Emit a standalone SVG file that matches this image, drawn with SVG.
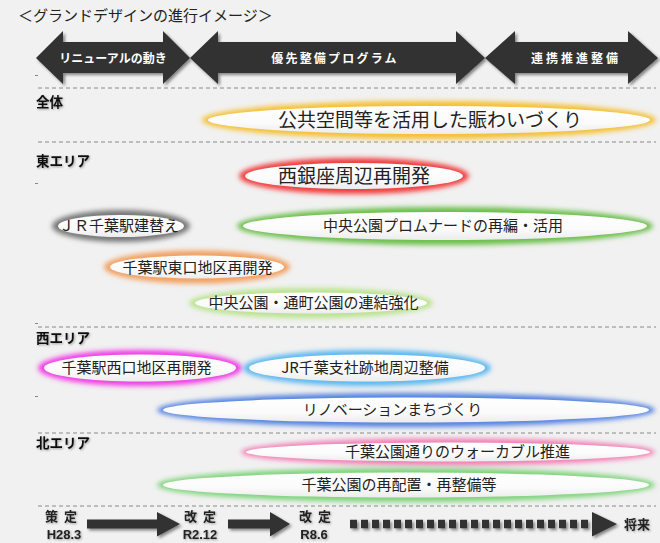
<svg xmlns="http://www.w3.org/2000/svg" width="660" height="543" viewBox="0 0 660 543">
<defs>
<style>
.t{font-family:"Noto Sans CJK JP","Noto Sans",sans-serif;fill:#222}
.hd{font-family:"Noto Sans CJK JP",sans-serif;fill:#fff;font-weight:bold;font-size:12px;text-anchor:middle}
.sec{font-family:"Noto Sans CJK JP",sans-serif;font-weight:bold;font-size:13.5px;fill:#111}
.lbl{font-family:"Noto Sans CJK JP",sans-serif;font-size:15px;fill:#222;text-anchor:middle}
.big{font-size:19px}
.tl{font-family:"Liberation Sans","Noto Sans CJK JP",sans-serif;font-weight:bold;font-size:13px;fill:#222;text-anchor:middle}
.dash{stroke:#8a8a8a;stroke-width:1;stroke-dasharray:4 3;fill:none}
.arr{fill:#333}
.white{fill:url(#wg)}
</style>
<linearGradient id="wg" x1="0" y1="0" x2="0" y2="1">
<stop offset="0" stop-color="#ffffff"/>
<stop offset="0.6" stop-color="#fbfbfb"/>
<stop offset="1" stop-color="#ececec"/>
</linearGradient>
<filter id="glow" x="-20%" y="-60%" width="140%" height="220%">
<feGaussianBlur stdDeviation="2.4"/>
</filter>
<filter id="shadow" x="-10%" y="-30%" width="120%" height="160%">
<feDropShadow dx="2" dy="2" stdDeviation="1.8" flood-color="#000" flood-opacity="0.45"/>
</filter>
<filter id="tshadow" x="-20%" y="-40%" width="140%" height="180%">
<feDropShadow dx="1" dy="1" stdDeviation="1" flood-color="#000" flood-opacity="0.35"/>
</filter>
</defs>
<rect x="0" y="0" width="660" height="543" fill="#f1f1f1"/>

<text class="t" x="18" y="20.5" font-size="15" fill="#333">＜グランドデザインの進行イメージ＞</text>

<g id="header" filter="url(#shadow)">
<polygon class="arr" points="36,58 63,31 63,42 163,42 163,31 190,58 163,84 163,73 63,73 63,84"/>
<polygon class="arr" points="190,58 218,31 218,42 456,42 456,31 485,58 456,84 456,73 218,73 218,84"/>
<polygon class="arr" points="485,58 515,31 515,42 628,42 628,31 658,58 628,84 628,73 515,73 515,84"/>
</g>
<text class="hd" x="113" y="62.5">リニューアルの動き</text>
<text class="hd" x="335" y="62.5" letter-spacing="2.2">優先整備プログラム</text>
<text class="hd" x="576" y="62.5" letter-spacing="3">連携推進整備</text>

<g id="separators">
<line class="dash" x1="38" y1="88" x2="656" y2="88"/>
<line class="dash" x1="38" y1="142" x2="656" y2="142"/>
<line class="dash" x1="38" y1="327" x2="656" y2="327"/>
<line class="dash" x1="38" y1="433" x2="656" y2="433"/>
<line class="dash" x1="38" y1="506" x2="656" y2="506"/>
<rect x="35" y="75" width="3" height="1" fill="#888"/>
<rect x="35" y="183" width="3" height="1" fill="#888"/>
<rect x="35" y="323" width="3" height="1" fill="#888"/>
<rect x="35" y="396" width="3" height="1" fill="#888"/>
</g>

<g id="sections" filter="url(#tshadow)">
<text class="sec" x="36" y="107">全体</text>
<text class="sec" x="36" y="166">東エリア</text>
<text class="sec" x="36" y="343">西エリア</text>
<text class="sec" x="36" y="448">北エリア</text>
</g>

<g id="n1">
<ellipse cx="429" cy="120" rx="227" ry="19" fill="#f5c030" filter="url(#glow)"/>
<ellipse class="white" cx="429" cy="120" rx="221" ry="14"/>
<text class="lbl big" x="430" y="126.5">公共空間等を活用した賑わいづくり</text>
</g>
<g id="n2">
<ellipse cx="354" cy="176" rx="115" ry="18" fill="#f03c3c" filter="url(#glow)"/>
<ellipse class="white" cx="354" cy="176" rx="109" ry="13"/>
<text class="lbl big" x="354" y="182.5">西銀座周辺再開発</text>
</g>
<g id="n3">
<ellipse cx="121" cy="226" rx="69" ry="16" fill="#777" filter="url(#glow)"/>
<ellipse class="white" cx="121" cy="226" rx="63" ry="11"/>
<text class="lbl" x="119" y="230.5" font-size="12.75">ＪＲ千葉駅建替え</text>
</g>
<g id="n4">
<ellipse cx="445" cy="226" rx="208" ry="19" fill="#6cbf4c" filter="url(#glow)"/>
<ellipse class="white" cx="445" cy="226" rx="202" ry="14"/>
<text class="lbl" x="443" y="231" font-size="15.3">中央公園プロムナードの再編・活用</text>
</g>
<g id="n5">
<ellipse cx="197" cy="267" rx="93" ry="16.5" fill="#f2a060" filter="url(#glow)"/>
<ellipse class="white" cx="197" cy="267" rx="87" ry="11.5"/>
<text class="lbl" x="197.5" y="272.5" font-size="15.1">千葉駅東口地区再開発</text>
</g>
<g id="n6">
<ellipse cx="311" cy="303" rx="122" ry="15" fill="#b9e38f" filter="url(#glow)"/>
<ellipse class="white" cx="311" cy="303" rx="116" ry="10.5"/>
<text class="lbl" x="313.5" y="308.3" font-size="15.2">中央公園・通町公園の連結強化</text>
</g>
<g id="n7">
<ellipse cx="140" cy="368" rx="102" ry="18" fill="#f03ce6" filter="url(#glow)"/>
<ellipse class="white" cx="140" cy="368" rx="96" ry="13.5"/>
<text class="lbl" x="136.5" y="373.3" font-size="15.3">千葉駅西口地区再開発</text>
</g>
<g id="n8">
<ellipse cx="367" cy="368" rx="124" ry="18" fill="#5cb8f0" filter="url(#glow)"/>
<ellipse class="white" cx="367" cy="368" rx="118" ry="13.5"/>
<text class="lbl" x="365" y="373.3" font-size="15.3">JR千葉支社跡地周辺整備</text>
</g>
<g id="n9">
<ellipse cx="406" cy="410" rx="249" ry="17" fill="#5282e0" filter="url(#glow)"/>
<ellipse class="white" cx="406" cy="410" rx="243" ry="12.5"/>
<text class="lbl" x="392.5" y="415.3" font-size="15.4">リノベーションまちづくり</text>
</g>
<g id="n10">
<ellipse cx="448" cy="452" rx="207" ry="13.5" fill="#f27db4" filter="url(#glow)"/>
<ellipse class="white" cx="448" cy="452" rx="202" ry="9.5"/>
<text class="lbl" x="457.5" y="457.3" font-size="15.5">千葉公園通りのウォーカブル推進</text>
</g>
<g id="n11">
<ellipse cx="406" cy="485" rx="249" ry="17" fill="#7ed37a" filter="url(#glow)"/>
<ellipse class="white" cx="406" cy="485" rx="243" ry="12.5"/>
<text class="lbl" x="399" y="490.3" font-size="15.5">千葉公園の再配置・再整備等</text>
</g>

<g id="timeline-connectors" filter="url(#shadow)">
<polygon class="arr" points="87,519.5 157,519.5 157,512 180,524 157,536.5 157,528.5 87,528.5"/>
<polygon class="arr" points="228,519.5 270,519.5 270,512 290,524 270,536.5 270,528.5 228,528.5"/>
<line x1="350" y1="524" x2="592" y2="524" stroke="#333" stroke-width="8.5" stroke-dasharray="7 4"/>
<polygon class="arr" points="592,512 617,524 592,536.5"/>
</g>

<g id="timeline-labels" filter="url(#tshadow)">
<text class="tl" x="64" y="521" letter-spacing="6" font-family="Noto Sans CJK JP">策定</text>
<text class="tl" x="64" y="539">H28.3</text>
<text class="tl" x="203" y="521" letter-spacing="6" font-family="Noto Sans CJK JP">改定</text>
<text class="tl" x="200" y="539">R2.12</text>
<text class="tl" x="318" y="521" letter-spacing="6" font-family="Noto Sans CJK JP">改定</text>
<text class="tl" x="314" y="539">R8.6</text>
<text class="tl" x="637" y="529" font-family="Noto Sans CJK JP">将来</text>
</g>
</svg>
